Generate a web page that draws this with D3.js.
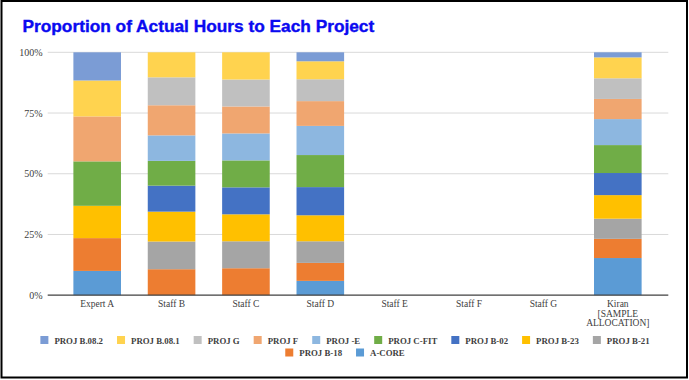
<!DOCTYPE html>
<html>
<head>
<meta charset="utf-8">
<script src="https://cdn.jsdelivr.net/npm/d3@7"></script>
<style>
  html, body { margin: 0; padding: 0; background: #fff; }
  svg { display: block; }
</style>
</head>
<body>
<svg id="chart" width="689" height="380"></svg>
<script>
// ---- Data ----
const categories = ["Expert A", "Staff B", "Staff C", "Staff D", "Staff E", "Staff F", "Staff G", "Kiran [SAMPLE ALLOCATION]"];
const categoryLines = [["Expert A"], ["Staff B"], ["Staff C"], ["Staff D"], ["Staff E"], ["Staff F"], ["Staff G"], ["Kiran", "[SAMPLE", "ALLOCATION]"]];
// stacking order bottom -> top
const seriesNames = ["A-CORE", "PROJ B-18", "PROJ B-21", "PROJ B-23", "PROJ B-02", "PROJ C-FIT", "PROJ -E", "PROJ F", "PROJ G", "PROJ B.08.1", "PROJ B.08.2"];
const seriesColors = ["#5B9BD5", "#ED7D31", "#A5A5A5", "#FFC000", "#4472C4", "#70AD47", "#8DB7E0", "#F0A670", "#C0C0C0", "#FFD34F", "#7B9CD5"];
// values in % per category (one array per series, same order as categories)
const vACore   = [10.0, 0,    0,    5.9,  0, 0, 0, 15.3];
const vB18     = [13.5, 10.7, 11.1, 7.4,  0, 0, 0, 7.9];
const vB21     = [0,    11.4, 11.1, 8.9,  0, 0, 0, 8.3];
const vB23     = [13.3, 12.3, 11.1, 10.7, 0, 0, 0, 9.7];
const vB02     = [0,    10.7, 11.1, 11.6, 0, 0, 0, 9.1];
const vCFit    = [18.3, 10.2, 11.1, 13.2, 0, 0, 0, 11.5];
const vE       = [0,    10.5, 11.1, 12.0, 0, 0, 0, 10.7];
const vF       = [18.5, 12.4, 11.1, 10.2, 0, 0, 0, 8.3];
const vG       = [0,    11.5, 11.1, 9.0,  0, 0, 0, 8.5];
const vB081    = [14.8, 10.3, 11.2, 7.4,  0, 0, 0, 8.6];
const vB082    = [11.6, 0,    0,    3.7,  0, 0, 0, 2.1];
const seriesValues = [vACore, vB18, vB21, vB23, vB02, vCFit, vE, vF, vG, vB081, vB082];
const yTicks = [0, 25, 50, 75, 100];
const yTickLabels = ["0%", "25%", "50%", "75%", "100%"];
// legend order
const legendOrder = ["PROJ B.08.2", "PROJ B.08.1", "PROJ G", "PROJ F", "PROJ -E", "PROJ C-FIT", "PROJ B-02", "PROJ B-23", "PROJ B-21", "PROJ B-18", "A-CORE"];
const legendRows = [9, 2];

// ---- Layout ----
const svg = d3.select("#chart");
const plotL = 47.7, plotR = 668.3, plotT = 52.3, plotB = 295.2;
const serifCss = "'Liberation Serif', 'Times New Roman', Times, serif";

svg.append("rect").attr("x", 1.5).attr("y", 1).attr("width", 685.5).attr("height", 376.5)
  .attr("fill", "#fff").attr("stroke", "#000").attr("stroke-width", 2);

svg.append("text").attr("x", 22.5).attr("y", 31.8)
  .style("font-family", "'Liberation Sans', Arial, sans-serif").style("font-weight", "bold")
  .style("font-size", "17.3px").attr("fill", "#0A0AF0")
  .attr("stroke", "#0A0AF0").attr("stroke-width", 0.4)
  .text("Proportion of Actual Hours to Each Project");

const x = d3.scaleBand().domain(categories).range([60, 655]).paddingInner(0.36).paddingOuter(0.18);
const y = d3.scaleLinear().domain([0, 100]).range([plotB, plotT]);

// gridlines
svg.append("g").selectAll("line").data(yTicks.filter(t => t > 0)).join("line")
  .attr("x1", plotL).attr("x2", plotR)
  .attr("y1", d => y(d)).attr("y2", d => y(d))
  .attr("stroke", "#D9D9D9").attr("stroke-width", 1);

// y axis labels
const yAxis = d3.axisLeft(y).tickValues(yTicks).tickSize(0).tickPadding(5)
  .tickFormat((d, i) => yTickLabels[i]);
const gy = svg.append("g").attr("transform", `translate(${plotL},0)`).call(yAxis);
gy.select(".domain").remove();
gy.attr("font-family", null).attr("font-size", null);
gy.selectAll("text").style("font-family", serifCss)
  .style("font-size", "10px").attr("fill", "#404040");

// stacked data
const table = categories.map((c, i) => {
  const o = { cat: c };
  seriesNames.forEach((s, j) => { o[s] = seriesValues[j][i]; });
  return o;
});
const stacked = d3.stack().keys(seriesNames)(table);

svg.append("g").selectAll("g").data(stacked).join("g")
  .attr("fill", (d, i) => seriesColors[i])
  .selectAll("rect").data(d => d).join("rect")
  .attr("x", d => x(d.data.cat))
  .attr("width", x.bandwidth())
  .attr("y", d => y(d[1]))
  .attr("height", d => Math.max(0, y(d[0]) - y(d[1])));

// x axis line
svg.append("line").attr("x1", plotL).attr("x2", plotR).attr("y1", plotB).attr("y2", plotB)
  .attr("stroke", "#404040").attr("stroke-width", 1.2);

// x labels
const xl = svg.append("g").selectAll("text").data(categories).join("text")
  .attr("x", d => x(d) + x.bandwidth() / 2)
  .attr("y", plotB + 12)
  .attr("text-anchor", "middle")
  .style("font-family", serifCss)
  .style("font-size", "9.5px").attr("fill", "#404040");
xl.each(function(d, i) {
  const t = d3.select(this);
  categoryLines[i].forEach((ln, k) => {
    t.append("tspan").attr("x", x(d) + x.bandwidth() / 2).attr("dy", k === 0 ? 0 : 9.4).text(ln);
  });
});

// legend
const colorOf = name => seriesColors[seriesNames.indexOf(name)];
const legendG = svg.append("g");
let idx = 0;
const rowY = [343.5, 356];
const itemGap = 14;
legendRows.forEach((n, r) => {
  const items = legendOrder.slice(idx, idx + n);
  idx += n;
  const row = legendG.append("g");
  let cx = 0;
  items.forEach(name => {
    const g = row.append("g").attr("transform", `translate(${cx},0)`);
    g.append("rect").attr("x", 0).attr("y", -7.5).attr("width", 8).attr("height", 8).attr("fill", colorOf(name));
    const t = g.append("text").attr("x", 14).attr("y", 0)
      .style("font-family", serifCss)
      .style("font-size", "8.8px").style("font-weight", "bold").attr("fill", "#404040")
      .text(name);
    cx += 14 + t.node().getComputedTextLength() + itemGap;
  });
  const total = cx - itemGap;
  row.attr("transform", `translate(${345 - total / 2},${rowY[r]})`);
});
</script>
</body>
</html>
